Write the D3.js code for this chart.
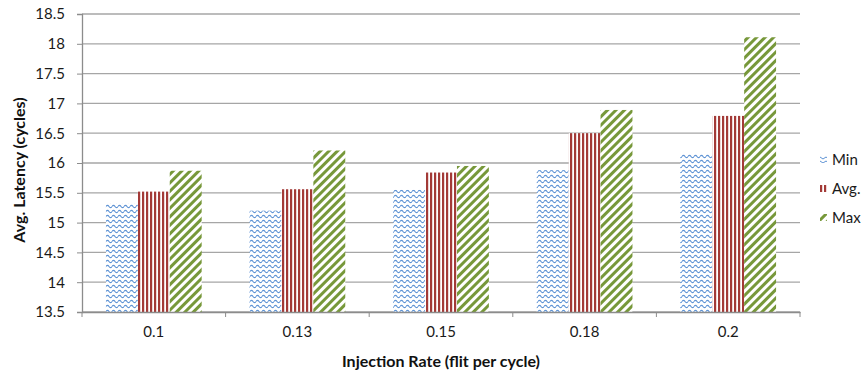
<!DOCTYPE html>
<html>
<head>
<meta charset="utf-8">
<script src="https://cdn.jsdelivr.net/npm/d3@7"></script>
<style>
  body { margin: 0; background: #fff; }
  svg { display: block; font-family: Lato, "Open Sans", sans-serif; }
  .tick text { font-size: 15px; fill: #1a1a1a; }
  .axis-title { font-size: 16px; font-weight: bold; fill: #111; }
  .legend text { font-size: 15px; fill: #1a1a1a; }
</style>
</head>
<body>
<svg width="862" height="374"></svg>
<script>
const categories = ["0.1", "0.13", "0.15", "0.18", "0.2"];
const seriesNames = ["Min", "Avg.", "Max"];
const minValues = [15.32, 15.2, 15.55, 15.88, 16.15];
const avgValues = [15.52, 15.56, 15.84, 16.5, 16.79];
const maxValues = [15.87, 16.21, 15.95, 16.89, 18.11];
const yTicks = [13.5, 14, 14.5, 15, 15.5, 16, 16.5, 17, 17.5, 18, 18.5];

const series = [
    {name: seriesNames[0], values: minValues, fill: "url(#pMin)", legendFill: "url(#pMinL)"},
    {name: seriesNames[1], values: avgValues, fill: "url(#pAvg)", legendFill: "url(#pAvg)"},
    {name: seriesNames[2], values: maxValues, fill: "url(#pMax)", legendFill: "url(#pMax)"}
];

const margin = {top: 14, right: 62, bottom: 62, left: 82};
const width = 862 - margin.left - margin.right;
const height = 374 - margin.top - margin.bottom;

let svg = d3.select("svg");
let defs = svg.append("defs");

// wavy blue pattern for Min
let pMin = defs.append("pattern").attr("id", "pMin").attr("patternUnits", "userSpaceOnUse")
    .attr("width", 6).attr("height", 5);
pMin.append("rect").attr("width", 6).attr("height", 5).attr("fill", "#fff");
pMin.append("path").attr("d", "M0,2.5 Q1.5,0.3 3,2.5 T6,2.5")
    .attr("fill", "none").attr("stroke", "#5d92d4").attr("stroke-width", 1.1);

let pMinL = defs.append("pattern").attr("id", "pMinL").attr("patternUnits", "userSpaceOnUse")
    .attr("width", 6).attr("height", 4);
pMinL.append("rect").attr("width", 6).attr("height", 4).attr("fill", "#fff");
pMinL.append("path").attr("d", "M0,1 L3,3 L6,1")
    .attr("fill", "none").attr("stroke", "#5d92d4").attr("stroke-width", 1);

// vertical red stripes for Avg.
let pAvg = defs.append("pattern").attr("id", "pAvg").attr("patternUnits", "userSpaceOnUse")
    .attr("width", 4).attr("height", 4);
pAvg.append("rect").attr("width", 4).attr("height", 4).attr("fill", "#fff");
pAvg.append("rect").attr("x", 0).attr("width", 2.2).attr("height", 4).attr("fill", "#a33a37");

// diagonal green stripes for Max
let pMax = defs.append("pattern").attr("id", "pMax").attr("patternUnits", "userSpaceOnUse")
    .attr("width", 6).attr("height", 6).attr("patternTransform", "rotate(45)");
pMax.append("rect").attr("width", 6).attr("height", 6).attr("fill", "#fff");
pMax.append("rect").attr("x", 0).attr("width", 3).attr("height", 6).attr("fill", "#77983a");

let g = svg.append("g").attr("transform", "translate(" + margin.left + "," + margin.top + ")");

let x0 = d3.scaleBand().domain(categories).range([0, width]).paddingInner(0).paddingOuter(0);
// Excel-like gap width of 150%
let barW = x0.bandwidth() / (series.length + 1.5);
let x1 = d3.scaleBand().domain(seriesNames).range([0, barW * series.length]);
let y = d3.scaleLinear().domain([13.5, 18.5]).range([height, 0]);

// gridlines
g.append("g").selectAll("line").data(yTicks).enter().append("line")
    .attr("x1", 0).attr("x2", width)
    .attr("y1", d => y(d)).attr("y2", d => y(d))
    .attr("stroke", "#a6a6a6").attr("stroke-width", 1.3);

// bars
series.forEach(s => {
    g.append("g").selectAll("rect").data(s.values).enter().append("rect")
        .attr("x", (d, i) => x0(categories[i]) + barW * 0.75 + x1(s.name))
        .attr("y", d => y(d))
        .attr("width", x1.bandwidth())
        .attr("height", d => height - y(d))
        .attr("fill", s.fill);
});

// y axis
let yAxis = g.append("g")
    .call(d3.axisLeft(y).tickValues(yTicks).tickSize(5).tickPadding(12).tickFormat(d3.format("")));
yAxis.selectAll("line").attr("stroke", "#8c8c8c");
yAxis.select(".domain").attr("stroke", "#8c8c8c").attr("stroke-width", 1.3);
yAxis.selectAll("text").attr("font-family", "Lato, 'Open Sans', sans-serif");

// x axis
let xAxis = g.append("g").attr("transform", "translate(0," + height + ")")
    .call(d3.axisBottom(x0).tickSize(0).tickPadding(14));
xAxis.select(".domain").attr("stroke", "#8c8c8c").attr("stroke-width", 1.3);
xAxis.selectAll("text").attr("font-family", "Lato, 'Open Sans', sans-serif");
xAxis.append("g").selectAll("line").data(d3.range(categories.length + 1)).enter().append("line")
    .attr("x1", d => d * x0.step()).attr("x2", d => d * x0.step())
    .attr("y1", 0).attr("y2", 5).attr("stroke", "#8c8c8c");

// axis titles
svg.append("text").attr("class", "axis-title")
    .attr("transform", "translate(25,170) rotate(-90)")
    .attr("text-anchor", "middle").text("Avg. Latency (cycles)");
svg.append("text").attr("class", "axis-title")
    .attr("x", margin.left + width / 2).attr("y", 367)
    .attr("text-anchor", "middle").text("Injection Rate (flit per cycle)");

// legend
let legend = svg.append("g").attr("class", "legend")
    .attr("transform", "translate(820,163)");
series.forEach((s, i) => {
    let row = legend.append("g").attr("transform", "translate(0," + (i * 29 - 3) + ")");
    row.append("rect").attr("x", 0).attr("y", -4).attr("width", 7).attr("height", 7).attr("fill", s.legendFill);
    row.append("text").attr("x", 12).attr("y", 0).attr("dy", "0.35em").text(s.name);
});
</script>
</body>
</html>
